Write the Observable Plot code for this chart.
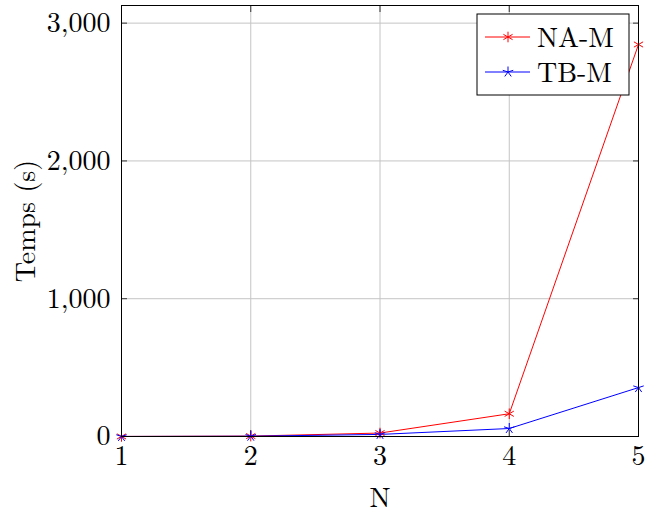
<!DOCTYPE html>
<html>
<head>
<meta charset="utf-8">
<script src="https://cdn.jsdelivr.net/npm/d3@7"></script>
<script src="https://cdn.jsdelivr.net/npm/@observablehq/plot@0.6"></script>
<style>
  html, body { margin: 0; padding: 0; background: #fff; }
</style>
</head>
<body>
<div id="chart"></div>
<script>
const N = [1, 2, 3, 4, 5];
const naM = [0.5, 3, 25, 165, 2845];
const tbM = [0.3, 2, 15, 58, 355];
const xTicks = [1, 2, 3, 4, 5];
const yTicks = [0, 1000, 2000, 3000];
const seriesNames = ["NA-M", "TB-M"];
const seriesColors = ["#ff0000", "#0000ff"];
const FONT = "'Latin Modern Roman', 'Liberation Serif', serif";

const rows = [];
N.forEach((n, i) => {
  rows.push({N: n, t: naM[i], s: seriesNames[0]});
  rows.push({N: n, t: tbM[i], s: seriesNames[1]});
});

const star5 = {
  draw(ctx, size) {
    const r = Math.sqrt(size / Math.PI) * 1.1;
    for (let k = 0; k < 5; k++) {
      const a = -Math.PI / 2 + k * 2 * Math.PI / 5;
      ctx.moveTo(0, 0);
      ctx.lineTo(r * Math.cos(a), r * Math.sin(a));
    }
  }
};

const grid = "#c4c4c4";
const chart = Plot.plot({
  width: 660,
  height: 513,
  marginLeft: 121,
  marginRight: 22,
  marginTop: 5,
  marginBottom: 77,
  style: {fontFamily: FONT, fontSize: "28px", background: "white", color: "black"},
  x: {domain: [1, 5]},
  y: {domain: [0, 3128]},
  marks: [
    Plot.gridX(xTicks, {stroke: grid, strokeOpacity: 1, strokeWidth: 1}),
    Plot.gridY(yTicks, {stroke: grid, strokeOpacity: 1, strokeWidth: 1}),
    Plot.axisX(xTicks, {anchor: "bottom", tickSize: 0, tickPadding: 9, tickFormat: d3.format("d"), label: null, fontSize: 28}),
    Plot.axisY(yTicks, {anchor: "left", tickSize: 0, tickPadding: 11, tickFormat: d3.format(","), label: null, fontSize: 28}),
    Plot.axisX(xTicks, {anchor: "bottom", tickSize: -6, tickFormat: () => "", label: null, stroke: "#333"}),
    Plot.axisX(xTicks, {anchor: "top", tickSize: -6, tickFormat: () => "", label: null, stroke: "#333"}),
    Plot.axisY(yTicks, {anchor: "left", tickSize: -6, tickFormat: () => "", label: null, stroke: "#333"}),
    Plot.axisY(yTicks, {anchor: "right", tickSize: -6, tickFormat: () => "", label: null, stroke: "#333"}),
    Plot.text(["N"], {frameAnchor: "bottom", dy: 62, lineAnchor: "middle", fontSize: 28}),
    Plot.text(["Temps (s)"], {frameAnchor: "left", textAnchor: "middle", lineAnchor: "middle", dx: -95, rotate: -90, fontSize: 28}),
    Plot.line(rows.filter(d => d.s === seriesNames[0]), {x: "N", y: "t", stroke: seriesColors[0], strokeWidth: 1}),
    Plot.line(rows.filter(d => d.s === seriesNames[1]), {x: "N", y: "t", stroke: seriesColors[1], strokeWidth: 1}),
    Plot.dot(rows.filter(d => d.s === seriesNames[0]), {x: "N", y: "t", symbol: "asterisk", r: 5, stroke: seriesColors[0], fill: "none", strokeWidth: 1}),
    Plot.dot(rows.filter(d => d.s === seriesNames[1]), {x: "N", y: "t", symbol: star5, r: 5, stroke: seriesColors[1], fill: "none", strokeWidth: 1}),
    Plot.frame({stroke: "black", strokeWidth: 1})
  ]
});

document.getElementById("chart").appendChild(chart);

// Legend (pgfplots-style box in the upper right)
const svg = d3.select(chart);
const lg = svg.append("g").attr("class", "legend");
lg.append("rect").attr("x", 477).attr("y", 14).attr("width", 152).attr("height", 81)
  .attr("fill", "white").attr("stroke", "black").attr("stroke-width", 1);
const symA = d3.symbol(d3.symbolAsterisk, Math.PI * 5 * 5);
const symS = d3.symbol(star5, Math.PI * 5 * 5);
const entries = [
  {name: seriesNames[0], color: seriesColors[0], sym: symA, y: 37},
  {name: seriesNames[1], color: seriesColors[1], sym: symS, y: 72}
];
entries.forEach(e => {
  lg.append("line").attr("x1", 485).attr("x2", 530).attr("y1", e.y).attr("y2", e.y)
    .attr("stroke", e.color).attr("stroke-width", 1);
  lg.append("path").attr("d", e.sym()).attr("transform", `translate(508,${e.y})`)
    .attr("fill", "none").attr("stroke", e.color).attr("stroke-width", 1);
  lg.append("text").attr("x", 537).attr("y", e.y).attr("dy", "0.34em")
    .attr("text-anchor", "start")
    .attr("font-size", 28)
    .attr("fill", "black").text(e.name);
});

svg.style("font-family", FONT, "important");
svg.selectAll("text").style("font-family", FONT, "important");
</script>
</body>
</html>
